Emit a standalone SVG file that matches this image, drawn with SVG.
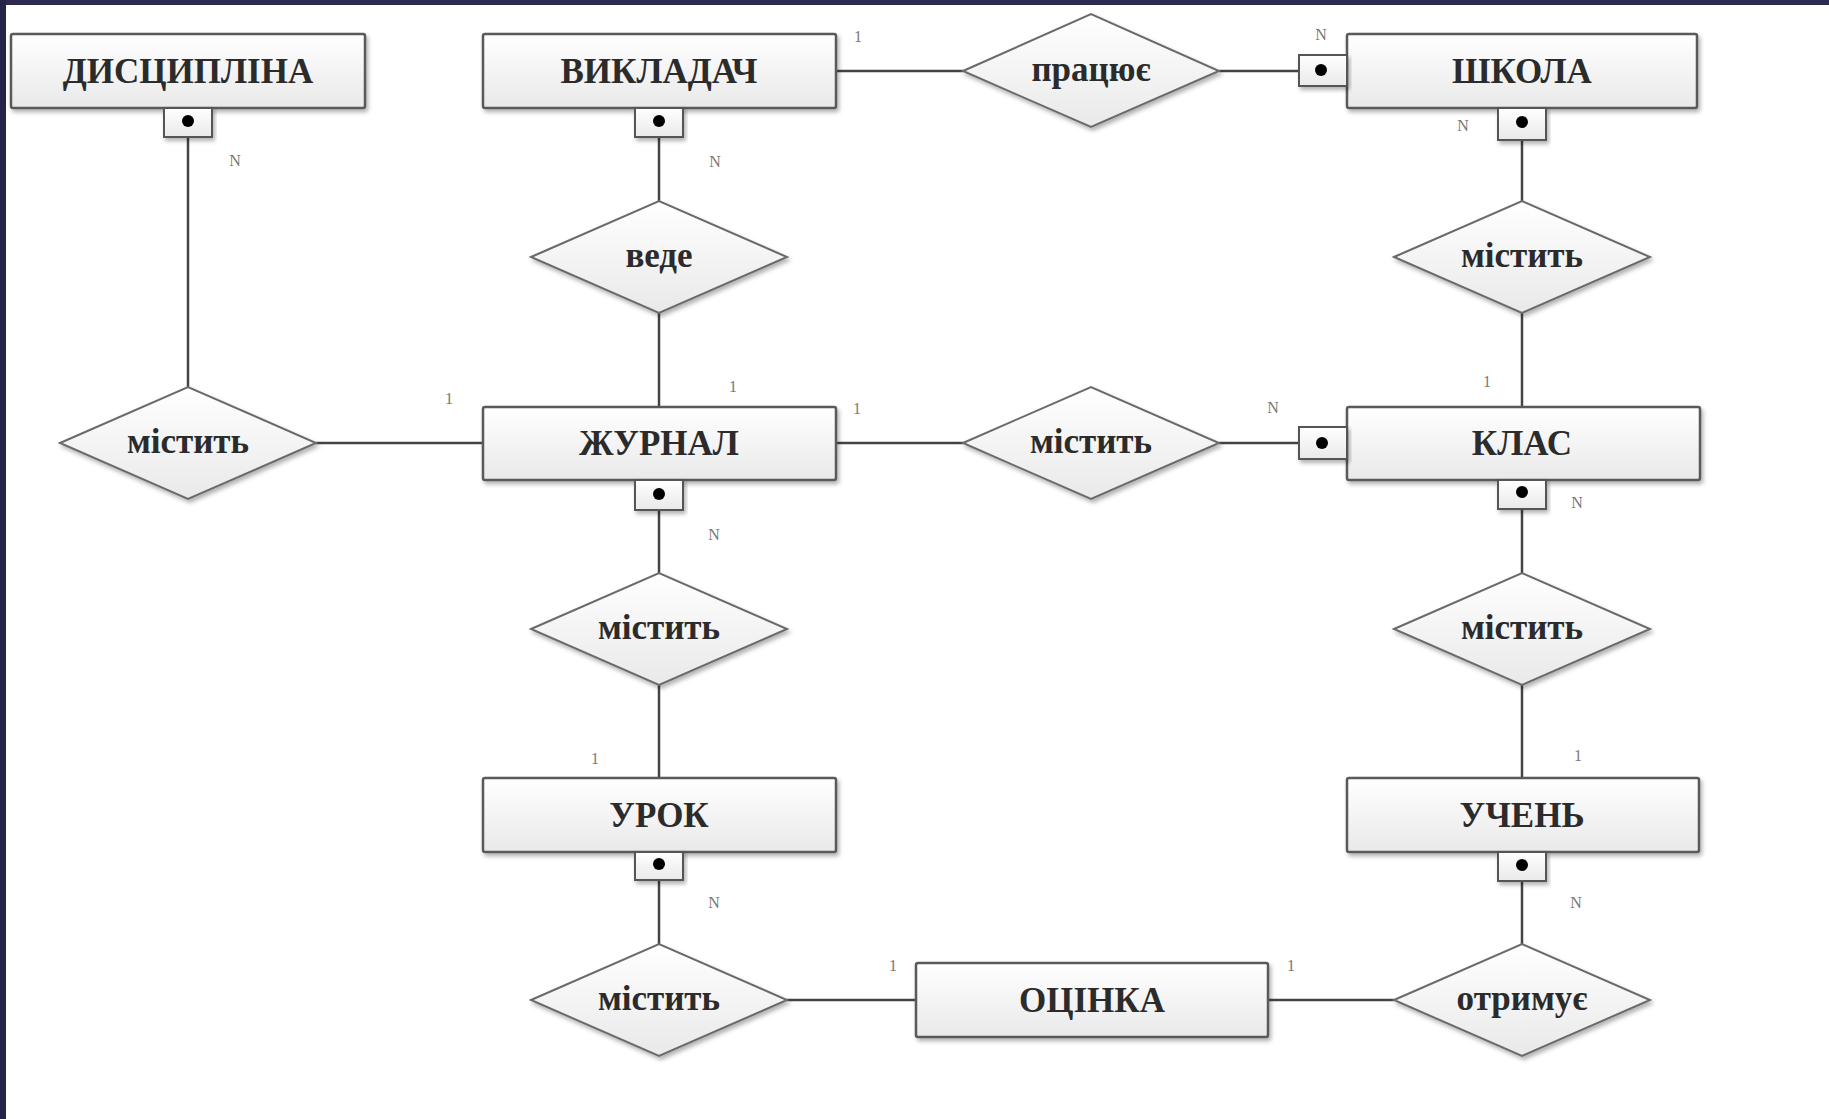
<svg xmlns="http://www.w3.org/2000/svg" width="1829" height="1119" viewBox="0 0 1829 1119">
<defs>
<linearGradient id="gBox" x1="0" y1="0" x2="0" y2="1">
<stop offset="0" stop-color="#ffffff"/>
<stop offset="1" stop-color="#e9e9e9"/>
</linearGradient>
<filter id="sh" x="-10%" y="-20%" width="120%" height="150%">
<feDropShadow dx="2" dy="3" stdDeviation="2" flood-color="#000" flood-opacity="0.3"/>
</filter>
</defs>
<style>
.ent{fill:url(#gBox);stroke:#5a5a5a;stroke-width:2.5;filter:url(#sh)}
.rel{fill:url(#gBox);stroke:#6a6a6a;stroke-width:2;filter:url(#sh)}
.key{fill:url(#gBox);stroke:#555;stroke-width:2;filter:url(#sh)}
.dot{fill:#000}
.t{font-family:"Liberation Serif","Times New Roman",serif;font-size:35px;font-weight:bold;fill:#2b2b2b;text-anchor:middle}
.lbl{font-family:"Liberation Serif","Times New Roman",serif;font-size:16px;fill:#777;text-anchor:middle}
.ln{stroke:#444;stroke-width:2.5;fill:none}
</style>
<rect x="0" y="0" width="1829" height="1119" fill="#ffffff"/>
<rect x="0" y="0" width="1829" height="5" fill="#2c2a50"/>
<rect x="0" y="0" width="6" height="1119" fill="#24234a"/>

<g id="connectors">
<line class="ln" x1="188" y1="137" x2="188" y2="387"/>
<line class="ln" x1="316" y1="443" x2="483" y2="443"/>
<line class="ln" x1="659" y1="137" x2="659" y2="201"/>
<line class="ln" x1="659" y1="313" x2="659" y2="407"/>
<line class="ln" x1="836" y1="71" x2="963" y2="71"/>
<line class="ln" x1="1219" y1="71" x2="1299" y2="71"/>
<line class="ln" x1="1522" y1="140" x2="1522" y2="201"/>
<line class="ln" x1="1522" y1="313" x2="1522" y2="407"/>
<line class="ln" x1="836" y1="443" x2="963" y2="443"/>
<line class="ln" x1="1219" y1="443" x2="1299" y2="443"/>
<line class="ln" x1="659" y1="510" x2="659" y2="573"/>
<line class="ln" x1="659" y1="685" x2="659" y2="778"/>
<line class="ln" x1="1522" y1="509" x2="1522" y2="573"/>
<line class="ln" x1="1522" y1="685" x2="1522" y2="778"/>
<line class="ln" x1="659" y1="880" x2="659" y2="944"/>
<line class="ln" x1="787" y1="1000" x2="916" y2="1000"/>
<line class="ln" x1="1268" y1="1000" x2="1394" y2="1000"/>
<line class="ln" x1="1522" y1="881" x2="1522" y2="944"/>
</g>

<g id="n-dyscyplina">
<rect class="ent" x="11" y="34" width="354" height="74" rx="2"/>
<text class="t" x="188" y="83">ДИСЦИПЛІНА</text>
<rect class="key" x="164" y="108" width="48" height="29"/>
<circle class="dot" cx="188" cy="121" r="6"/>
</g>

<g id="n-vykladach">
<rect class="ent" x="483" y="34" width="353" height="74" rx="2"/>
<text class="t" x="659" y="83">ВИКЛАДАЧ</text>
<rect class="key" x="635" y="108" width="48" height="29"/>
<circle class="dot" cx="659" cy="121" r="6"/>
</g>

<g id="n-shkola">
<rect class="ent" x="1347" y="34" width="350" height="74" rx="2"/>
<text class="t" x="1522" y="83">ШКОЛА</text>
<rect class="key" x="1299" y="55" width="48" height="31"/>
<circle class="dot" cx="1321" cy="70" r="6"/>
<rect class="key" x="1498" y="108" width="48" height="32"/>
<circle class="dot" cx="1522" cy="122" r="6"/>
</g>

<g id="n-zhurnal">
<rect class="ent" x="483" y="407" width="353" height="73" rx="2"/>
<text class="t" x="659" y="455">ЖУРНАЛ</text>
<rect class="key" x="635" y="480" width="48" height="30"/>
<circle class="dot" cx="659" cy="494" r="6"/>
</g>

<g id="n-klas">
<rect class="ent" x="1347" y="407" width="353" height="73" rx="2"/>
<text class="t" x="1522" y="455">КЛАС</text>
<rect class="key" x="1299" y="427" width="48" height="32"/>
<circle class="dot" cx="1322" cy="443" r="6"/>
<rect class="key" x="1498" y="480" width="48" height="29"/>
<circle class="dot" cx="1522" cy="492" r="6"/>
</g>

<g id="n-urok">
<rect class="ent" x="483" y="778" width="353" height="74" rx="2"/>
<text class="t" x="659" y="827">УРОК</text>
<rect class="key" x="635" y="852" width="48" height="28"/>
<circle class="dot" cx="659" cy="864" r="6"/>
</g>

<g id="n-uchen">
<rect class="ent" x="1347" y="778" width="352" height="74" rx="2"/>
<text class="t" x="1522" y="827">УЧЕНЬ</text>
<rect class="key" x="1498" y="852" width="48" height="29"/>
<circle class="dot" cx="1522" cy="865" r="6"/>
</g>

<g id="n-ocinka">
<rect class="ent" x="916" y="963" width="352" height="74" rx="2"/>
<text class="t" x="1092" y="1012">ОЦІНКА</text>
</g>

<g id="r-pratsiuie">
<polygon class="rel" points="963,71 1091,14 1219,71 1091,127"/>
<text class="t" x="1091" y="81">працює</text>
</g>
<g id="r-vede">
<polygon class="rel" points="531,257 659,201 787,257 659,313"/>
<text class="t" x="659" y="267">веде</text>
</g>
<g id="r-mistyt-shkola">
<polygon class="rel" points="1394,257 1522,201 1650,257 1522,313"/>
<text class="t" x="1522" y="267">містить</text>
</g>
<g id="r-mistyt-dysc">
<polygon class="rel" points="60,443 188,387 316,443 188,499"/>
<text class="t" x="188" y="453">містить</text>
</g>
<g id="r-mistyt-klas">
<polygon class="rel" points="963,443 1091,387 1219,443 1091,499"/>
<text class="t" x="1091" y="453">містить</text>
</g>
<g id="r-mistyt-urok">
<polygon class="rel" points="531,629 659,573 787,629 659,685"/>
<text class="t" x="659" y="639">містить</text>
</g>
<g id="r-mistyt-uchen">
<polygon class="rel" points="1394,629 1522,573 1650,629 1522,685"/>
<text class="t" x="1522" y="639">містить</text>
</g>
<g id="r-mistyt-ocinka">
<polygon class="rel" points="531,1000 659,944 787,1000 659,1056"/>
<text class="t" x="659" y="1010">містить</text>
</g>
<g id="r-otrymuie">
<polygon class="rel" points="1394,1000 1522,944 1650,1000 1522,1056"/>
<text class="t" x="1522" y="1010">отримує</text>
</g>

<g id="labels">
<text class="lbl" x="235" y="166">N</text>
<text class="lbl" x="715" y="167">N</text>
<text class="lbl" x="858" y="42">1</text>
<text class="lbl" x="1321" y="40">N</text>
<text class="lbl" x="1463" y="131">N</text>
<text class="lbl" x="449" y="404">1</text>
<text class="lbl" x="733" y="392">1</text>
<text class="lbl" x="857" y="414">1</text>
<text class="lbl" x="1273" y="413">N</text>
<text class="lbl" x="1487" y="387">1</text>
<text class="lbl" x="1577" y="508">N</text>
<text class="lbl" x="714" y="540">N</text>
<text class="lbl" x="595" y="764">1</text>
<text class="lbl" x="1578" y="761">1</text>
<text class="lbl" x="714" y="908">N</text>
<text class="lbl" x="1576" y="908">N</text>
<text class="lbl" x="893" y="971">1</text>
<text class="lbl" x="1291" y="971">1</text>
</g>
</svg>
